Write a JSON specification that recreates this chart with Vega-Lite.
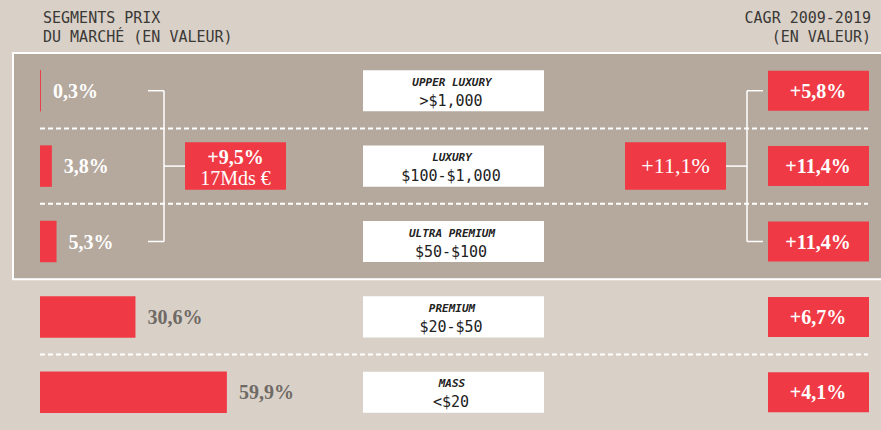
{
  "$schema": "https://vega.github.io/schema/vega-lite/v6.json",
  "width": 881,
  "height": 430,
  "autosize": {"type": "none"},
  "padding": 0,
  "background": "#d9d1c8",
  "config": {
    "view": {"stroke": null},
    "locale": {"number": {"decimal": ",", "thousands": " ", "grouping": [3], "currency": ["", " €"]}}
  },
  "datasets": {
    "segments": [
      {"segment": "UPPER LUXURY", "price": ">$1,000", "share": 0.003, "cagr": 0.058},
      {"segment": "LUXURY", "price": "$100-$1,000", "share": 0.038, "cagr": 0.114},
      {"segment": "ULTRA PREMIUM", "price": "$50-$100", "share": 0.053, "cagr": 0.114},
      {"segment": "PREMIUM", "price": "$20-$50", "share": 0.306, "cagr": 0.067},
      {"segment": "MASS", "price": "<$20", "share": 0.599, "cagr": 0.041}
    ],
    "groups": [
      {"segment": "LUXURY", "first": "UPPER LUXURY", "last": "ULTRA PREMIUM", "market_cagr": 0.095, "market_size": "17Mds €", "segment_cagr": 0.111}
    ]
  },
  "layer": [
    {
      "data": {"name": "groups"},
      "mark": {"type": "rect", "fill": "#b5a89d", "stroke": "#ffffff", "strokeWidth": 2},
      "encoding": {
        "y": {"field": "first", "type": "nominal", "bandPosition": 0, "axis": null,
          "scale": {"type": "band", "domain": ["UPPER LUXURY", "LUXURY", "ULTRA PREMIUM", "PREMIUM", "MASS"], "range": [53, 430], "paddingInner": 0, "paddingOuter": 0}},
        "y2": {"field": "last", "bandPosition": 1},
        "x": {"value": 13},
        "x2": {"value": 890}
      }
    },
    {
      "data": {"name": "segments"},
      "transform": [{"filter": "datum.segment == 'LUXURY' || datum.segment == 'ULTRA PREMIUM' || datum.segment == 'MASS'"}],
      "mark": {"type": "rule", "stroke": "#ffffff", "strokeWidth": 2, "strokeDash": [5, 3]},
      "encoding": {
        "y": {"field": "segment", "type": "nominal", "bandPosition": 0, "axis": null},
        "x": {"value": 40},
        "x2": {"value": 868}
      }
    },
    {
      "data": {"name": "segments"},
      "mark": {"type": "bar", "color": "#ef3a45", "height": {"band": 0.55}},
      "encoding": {
        "y": {"field": "segment", "type": "nominal", "axis": null},
        "x": {"field": "share", "type": "quantitative", "axis": null, "scale": {"domain": [0, 1], "range": [40, 352], "zero": true}}
      }
    },
    {
      "data": {"name": "segments"},
      "mark": {"type": "text", "font": "Liberation Serif", "fontWeight": "bold", "fontSize": 20, "align": "left", "baseline": "middle", "dx": 12, "dy": 1},
      "encoding": {
        "y": {"field": "segment", "type": "nominal", "axis": null},
        "x": {"field": "share", "type": "quantitative"},
        "text": {"field": "share", "type": "quantitative", "format": ".1%"},
        "color": {"condition": {"test": "datum.share < 0.1", "value": "#ffffff"}, "value": "#6f6a65"}
      }
    },
    {
      "data": {"name": "segments"},
      "mark": {"type": "bar", "color": "#ffffff", "height": {"band": 0.545}},
      "encoding": {
        "y": {"field": "segment", "type": "nominal", "axis": null},
        "x": {"value": 363},
        "x2": {"value": 544}
      }
    },
    {
      "data": {"name": "segments"},
      "mark": {"type": "text", "font": "DejaVu Sans Mono", "fontStyle": "italic", "fontWeight": "bold", "fontSize": 11, "align": "center", "baseline": "alphabetic", "dy": -5, "color": "#222222"},
      "encoding": {
        "y": {"field": "segment", "type": "nominal", "axis": null},
        "x": {"value": 452},
        "text": {"field": "segment"}
      }
    },
    {
      "data": {"name": "segments"},
      "mark": {"type": "text", "font": "DejaVu Sans Mono", "fontSize": 15, "align": "center", "baseline": "alphabetic", "dy": 15, "color": "#222222"},
      "encoding": {
        "y": {"field": "segment", "type": "nominal", "axis": null},
        "x": {"value": 451},
        "text": {"field": "price"}
      }
    },
    {
      "data": {"name": "segments"},
      "mark": {"type": "bar", "color": "#ef3a45", "height": {"band": 0.53}},
      "encoding": {
        "y": {"field": "segment", "type": "nominal", "axis": null},
        "x": {"value": 768},
        "x2": {"value": 869}
      }
    },
    {
      "data": {"name": "segments"},
      "mark": {"type": "text", "font": "Liberation Serif", "fontWeight": "bold", "fontSize": 20, "align": "center", "baseline": "middle", "dy": 1, "color": "#ffffff"},
      "encoding": {
        "y": {"field": "segment", "type": "nominal", "axis": null},
        "x": {"value": 818},
        "text": {"field": "cagr", "type": "quantitative", "format": "+.1%"}
      }
    },
    {
      "data": {"name": "groups"},
      "mark": {"type": "rule", "stroke": "#ffffff", "strokeWidth": 1.5},
      "encoding": {
        "y": {"field": "first", "type": "nominal", "bandPosition": 0.5, "axis": null},
        "y2": {"field": "last", "bandPosition": 0.5},
        "x": {"value": 164}
      }
    },
    {
      "data": {"name": "groups"},
      "mark": {"type": "rule", "stroke": "#ffffff", "strokeWidth": 1.5},
      "encoding": {
        "y": {"field": "first", "type": "nominal", "bandPosition": 0.5, "axis": null},
        "y2": {"field": "last", "bandPosition": 0.5},
        "x": {"value": 747}
      }
    },
    {
      "data": {"name": "groups"},
      "mark": {"type": "rule", "stroke": "#ffffff", "strokeWidth": 1.5},
      "encoding": {
        "y": {"field": "first", "type": "nominal", "axis": null},
        "x": {"value": 148},
        "x2": {"value": 164}
      }
    },
    {
      "data": {"name": "groups"},
      "mark": {"type": "rule", "stroke": "#ffffff", "strokeWidth": 1.5},
      "encoding": {
        "y": {"field": "last", "type": "nominal", "axis": null},
        "x": {"value": 148},
        "x2": {"value": 164}
      }
    },
    {
      "data": {"name": "groups"},
      "mark": {"type": "rule", "stroke": "#ffffff", "strokeWidth": 1.5},
      "encoding": {
        "y": {"field": "segment", "type": "nominal", "axis": null},
        "x": {"value": 164},
        "x2": {"value": 185}
      }
    },
    {
      "data": {"name": "groups"},
      "mark": {"type": "rule", "stroke": "#ffffff", "strokeWidth": 1.5},
      "encoding": {
        "y": {"field": "first", "type": "nominal", "axis": null},
        "x": {"value": 747},
        "x2": {"value": 763}
      }
    },
    {
      "data": {"name": "groups"},
      "mark": {"type": "rule", "stroke": "#ffffff", "strokeWidth": 1.5},
      "encoding": {
        "y": {"field": "last", "type": "nominal", "axis": null},
        "x": {"value": 747},
        "x2": {"value": 763}
      }
    },
    {
      "data": {"name": "groups"},
      "mark": {"type": "rule", "stroke": "#ffffff", "strokeWidth": 1.5},
      "encoding": {
        "y": {"field": "segment", "type": "nominal", "axis": null},
        "x": {"value": 726},
        "x2": {"value": 747}
      }
    },
    {
      "data": {"name": "groups"},
      "mark": {"type": "bar", "color": "#ef3a45", "height": {"band": 0.63}},
      "encoding": {
        "y": {"field": "segment", "type": "nominal", "axis": null},
        "x": {"value": 185},
        "x2": {"value": 286}
      }
    },
    {
      "data": {"name": "groups"},
      "mark": {"type": "bar", "color": "#ef3a45", "height": {"band": 0.63}},
      "encoding": {
        "y": {"field": "segment", "type": "nominal", "axis": null},
        "x": {"value": 625},
        "x2": {"value": 726}
      }
    },
    {
      "data": {"name": "groups"},
      "mark": {"type": "text", "font": "Liberation Serif", "fontWeight": "bold", "fontSize": 20, "align": "center", "baseline": "middle", "dy": -8, "color": "#ffffff"},
      "encoding": {
        "y": {"field": "segment", "type": "nominal", "axis": null},
        "x": {"value": 235.5},
        "text": {"field": "market_cagr", "type": "quantitative", "format": "+.1%"}
      }
    },
    {
      "data": {"name": "groups"},
      "mark": {"type": "text", "font": "Liberation Serif", "fontSize": 20, "align": "center", "baseline": "middle", "dy": 13, "color": "#ffffff"},
      "encoding": {
        "y": {"field": "segment", "type": "nominal", "axis": null},
        "x": {"value": 235.5},
        "text": {"field": "market_size"}
      }
    },
    {
      "data": {"name": "groups"},
      "mark": {"type": "text", "font": "Liberation Serif", "fontSize": 22, "align": "center", "baseline": "middle", "dy": 0, "color": "#ffffff"},
      "encoding": {
        "y": {"field": "segment", "type": "nominal", "axis": null},
        "x": {"value": 675.5},
        "text": {"field": "segment_cagr", "type": "quantitative", "format": "+.1%"}
      }
    },
    {
      "data": {"values": [{"line1": "SEGMENTS PRIX", "line2": "DU MARCHÉ (EN VALEUR)"}]},
      "mark": {"type": "text", "font": "DejaVu Sans Mono", "fontSize": 15, "align": "left", "baseline": "alphabetic", "lineHeight": 19, "color": "#3b3936"},
      "encoding": {
        "x": {"value": 43},
        "y": {"value": 23},
        "text": {"value": ["SEGMENTS PRIX", "DU MARCHÉ (EN VALEUR)"]}
      }
    },
    {
      "data": {"values": [{"line1": "CAGR 2009-2019", "line2": "(EN VALEUR)"}]},
      "mark": {"type": "text", "font": "DejaVu Sans Mono", "fontSize": 15, "align": "right", "baseline": "alphabetic", "lineHeight": 19, "color": "#3b3936"},
      "encoding": {
        "x": {"value": 871},
        "y": {"value": 23},
        "text": {"value": ["CAGR 2009-2019", "(EN VALEUR)"]}
      }
    }
  ]
}
